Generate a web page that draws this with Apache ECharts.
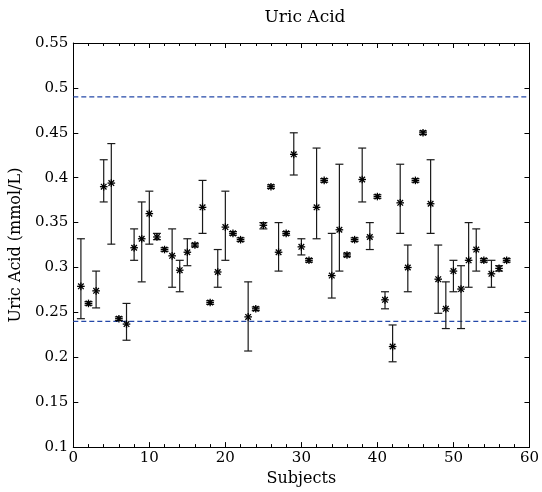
<!DOCTYPE html>
<html>
<head>
<meta charset="utf-8">
<script src="https://cdn.jsdelivr.net/npm/echarts@6/dist/echarts.min.js"></script>
<style>html,body{margin:0;padding:0;background:#fff}#c{width:542px;height:492px}</style>
</head>
<body>
<div id="c"></div>
<script>
var subjects = [1,2,3,4,5,6,7,8,9,10,11,12,13,14,15,16,17,18,19,20,21,22,23,24,25,26,27,28,29,30,31,32,33,34,35,36,37,38,39,40,41,42,43,44,45,46,47,48,49,50,51,52,53,54,55,56,57];
var means = [0.279,0.260,0.274,0.390,0.394,0.243,0.237,0.322,0.332,0.360,0.334,0.320,0.313,0.297,0.317,0.325,0.367,0.261,0.295,0.345,0.338,0.331,0.245,0.254,0.347,0.390,0.317,0.338,0.426,0.323,0.308,0.367,0.397,0.291,0.342,0.314,0.331,0.398,0.334,0.379,0.264,0.212,0.372,0.300,0.397,0.450,0.371,0.287,0.254,0.296,0.276,0.308,0.320,0.308,0.293,0.299,0.308];
var lows = [0.243,0.258,0.255,0.373,0.326,0.241,0.219,0.308,0.284,0.326,0.331,0.318,0.278,0.273,0.302,0.323,0.338,0.259,0.278,0.308,0.336,0.329,0.207,0.252,0.343,0.388,0.296,0.336,0.403,0.314,0.306,0.332,0.395,0.266,0.296,0.312,0.329,0.373,0.320,0.377,0.254,0.195,0.338,0.273,0.395,0.448,0.338,0.249,0.232,0.273,0.232,0.278,0.296,0.306,0.278,0.296,0.306];
var highs = [0.332,0.262,0.296,0.420,0.438,0.245,0.260,0.343,0.373,0.385,0.338,0.322,0.343,0.308,0.332,0.327,0.397,0.263,0.320,0.385,0.340,0.333,0.284,0.256,0.350,0.392,0.350,0.340,0.450,0.332,0.310,0.433,0.399,0.338,0.415,0.316,0.333,0.433,0.350,0.381,0.273,0.236,0.415,0.325,0.399,0.452,0.420,0.325,0.284,0.308,0.302,0.350,0.343,0.310,0.308,0.302,0.310];
var refLines = [0.49, 0.24];
var xTicks = {min: 0, max: 60, interval: 10};
var yTicks = {min: 0.1, max: 0.55, interval: 0.05};

var data = subjects.map(function (s, i) { return [s, means[i], lows[i], highs[i]]; });
var FONT = 'DejaVu Serif';
var chart = echarts.init(document.getElementById('c'), null, {renderer: 'canvas'});

function renderItem(params, api) {
  var x = api.value(0);
  var p = api.coord([x, api.value(1)]);
  var lo = api.coord([x, api.value(2)]);
  var hi = api.coord([x, api.value(3)]);
  var cw = 4, r = 3.8, d = 2.8;
  var barStyle = {stroke: '#1a1a1a', lineWidth: 1.2, fill: null};
  var starStyle = {stroke: '#000', lineWidth: 1.3, fill: null};
  return {
    type: 'group',
    children: [
      {type: 'line', shape: {x1: p[0], y1: lo[1], x2: p[0], y2: hi[1]}, style: barStyle},
      {type: 'line', shape: {x1: p[0] - cw, y1: lo[1], x2: p[0] + cw, y2: lo[1]}, style: barStyle},
      {type: 'line', shape: {x1: p[0] - cw, y1: hi[1], x2: p[0] + cw, y2: hi[1]}, style: barStyle},
      {type: 'line', shape: {x1: p[0] - r, y1: p[1], x2: p[0] + r, y2: p[1]}, style: starStyle},
      {type: 'line', shape: {x1: p[0], y1: p[1] - r, x2: p[0], y2: p[1] + r}, style: starStyle},
      {type: 'line', shape: {x1: p[0] - d, y1: p[1] - d, x2: p[0] + d, y2: p[1] + d}, style: starStyle},
      {type: 'line', shape: {x1: p[0] - d, y1: p[1] + d, x2: p[0] + d, y2: p[1] - d}, style: starStyle}
    ]
  };
}

var axisCommon = {
  axisLine: {show: true, onZero: false, lineStyle: {color: '#000', width: 1}},
  splitLine: {show: false}
};

var refSeries = refLines.map(function (v) {
  return {
    type: 'line', xAxisIndex: 0, yAxisIndex: 0, silent: true, symbol: 'none', z: 2,
    lineStyle: {color: '#2448a8', type: [5, 3], width: 1.2},
    data: [[xTicks.min, v], [xTicks.max, v]]
  };
});

chart.setOption({
  animation: false,
  backgroundColor: '#fff',
  title: {
    text: 'Uric Acid', left: 300, top: 4, textAlign: 'center',
    textStyle: {fontFamily: FONT, fontSize: 17, fontWeight: 'normal', color: '#000'}
  },
  grid: {left: 69, right: 11, top: 43, bottom: 44, containLabel: false},
  xAxis: [
    Object.assign({}, axisCommon, {
      type: 'value', position: 'bottom', min: xTicks.min, max: xTicks.max, interval: xTicks.interval,
      name: 'Subjects', nameLocation: 'middle', nameGap: 22,
      nameTextStyle: {fontFamily: FONT, fontSize: 16, color: '#000'},
      axisTick: {show: true, inside: true, length: 5, lineStyle: {color: '#000'}},
      minorTick: {show: true, splitNumber: 5, length: 3, lineStyle: {color: '#000'}},
      axisLabel: {fontFamily: FONT, fontSize: 15, color: '#000', margin: 4}
    }),
    Object.assign({}, axisCommon, {
      type: 'value', position: 'top', min: xTicks.min, max: xTicks.max, interval: xTicks.interval,
      axisTick: {show: true, inside: true, length: 5, lineStyle: {color: '#000'}},
      minorTick: {show: true, splitNumber: 5, length: 3, lineStyle: {color: '#000'}},
      axisLabel: {show: false}
    })
  ],
  yAxis: [
    Object.assign({}, axisCommon, {
      type: 'value', position: 'left', min: yTicks.min, max: yTicks.max, interval: yTicks.interval,
      name: 'Uric Acid (mmol/L)', nameLocation: 'middle', nameGap: 44,
      nameTextStyle: {fontFamily: FONT, fontSize: 16, color: '#000'},
      axisTick: {show: true, inside: true, length: 5, lineStyle: {color: '#000'}},
      axisLabel: {fontFamily: FONT, fontSize: 15, color: '#000', margin: 5}
    }),
    Object.assign({}, axisCommon, {
      type: 'value', position: 'right', min: yTicks.min, max: yTicks.max, interval: yTicks.interval,
      axisTick: {show: true, inside: true, length: 5, lineStyle: {color: '#000'}},
      axisLabel: {show: false}
    })
  ],
  series: refSeries.concat([
    {
      type: 'custom', xAxisIndex: 0, yAxisIndex: 0,
      renderItem: renderItem,
      encode: {x: 0, y: [1, 2, 3]},
      data: data,
      z: 3
    }
  ])
});
</script>
</body>
</html>
